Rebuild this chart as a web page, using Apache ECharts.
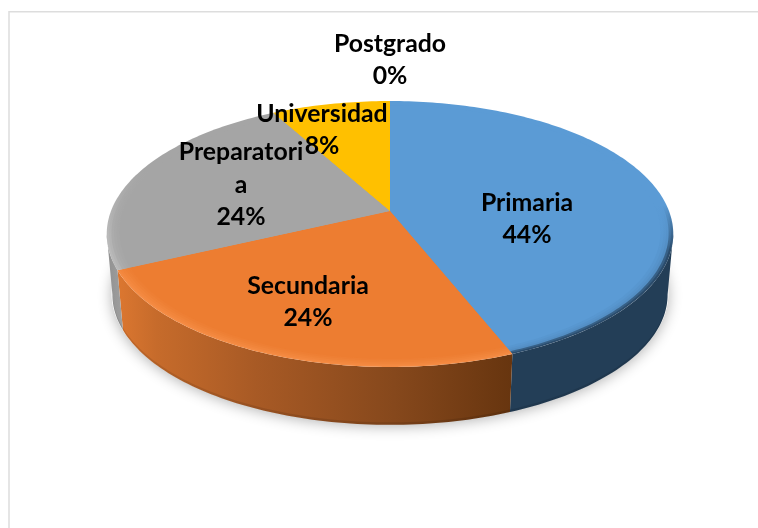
<!DOCTYPE html>
<html><head><meta charset="utf-8">
<style>html,body{margin:0;padding:0;background:#fff}#c{width:758px;height:528px}</style>
<script src="https://cdn.jsdelivr.net/npm/echarts@6/dist/echarts.min.js"></script>
</head><body><div id="c"></div>
<script>
const categories = ['Primaria','Secundaria','Preparatoria','Universidad','Postgrado'];
const values = [44,24,24,8,0];
const labelLines = [['Primaria','44%'],['Secundaria','24%'],['Preparatori','a','24%'],['Universidad','8%'],['Postgrado','0%']];
const labelAt = [[527,219],[308,302],[241,185],[322,130],[390,60]];
const topColors = ['#5B9BD5','#ED7D31','#A5A5A5','#FFC000','#4472C4'];
const rimColors = [['#2B4C6C','#4A80B2'],['#F58C44','#F58C44'],['#B9B9B9','#B2B2B2'],['#FFC000','#FFC000'],['#4472C4','#4472C4']];
const rimFade = [[205,250],[240,280],[170,235],[90,110],[90,110]];
const wallStops = [
  [[0,'#233E57'],[1,'#233E57']],
  [[0,'#DC7730'],[0.1,'#C66B2B'],[0.35,'#A85A25'],[0.7,'#86481C'],[1,'#67350F']],
  [[0,'#909090'],[1,'#A0A0A0']],
  [[0,'#A07A00'],[1,'#A07A00']],
  [[0,'#2A4780'],[1,'#2A4780']]
];
const cx=390, cy=211, A=129, B=279, k=0.173, wallDrop=61, wallScale=0.98;
const frontStart=Math.acos(-k), frontEnd=2*Math.PI-frontStart;

function proj(theta,r,drop,s){
  const u=r*Math.sin(theta), v=-r*Math.cos(theta), d=1-k*v;
  return [cx+s*B*u/d, cy+drop+s*A*v/d];
}
function arc(a0,a1,r,drop,s){
  const n=Math.max(2,Math.ceil((a1-a0)/0.02)), out=[];
  for(let i=0;i<=n;i++) out.push(proj(a0+(a1-a0)*i/n,r,drop,s));
  return out;
}
function wedge(a0,a1,r){ return [[cx,cy]].concat(arc(a0,a1,r,0,1)); }
const total=values.reduce((a,b)=>a+b,0);
function angles(i){
  let s=0; for(let j=0;j<i;j++) s+=values[j];
  return [s/total*2*Math.PI,(s+values[i])/total*2*Math.PI];
}
function hex(c){return [1,3,5].map(i=>parseInt(c.substr(i,2),16));}
function mix(a,b,t){const x=hex(a),y=hex(b);return 'rgb('+x.map((v,i)=>Math.round(v+(y[i]-v)*t)).join(',')+')';}

function renderSlice(params,api){
  const i=params.dataIndex, [a0,a1]=angles(i), ch=[];
  if(a1>a0){
    const f0=Math.max(a0,frontStart), f1=Math.min(a1,frontEnd);
    if(f1>f0){
      const tp=arc(f0,f1,1,0,1), bt=arc(f0,f1,1,wallDrop,wallScale);
      const xs=tp.concat(bt).map(p=>p[0]);
      ch.push({type:'polygon',z2:1,silent:true,shape:{points:tp.concat(bt.slice().reverse())},
        style:{fill:{type:'linear',x:Math.min(...xs),y:0,x2:Math.max(...xs),y2:0,global:true,
          colorStops:wallStops[i].map(s=>({offset:s[0],color:s[1]}))}}});
      ch.push({type:'polygon',z2:2,silent:true,
        shape:{points:arc(f0,f1,1,wallDrop-2.5,wallScale).concat(bt.slice().reverse())},
        style:{fill:'rgba(0,0,0,0.10)'}});
    }
    const rims=[[1,0],[0.992,0.25],[0.984,0.5],[0.975,0.7],[0.966,0.85],[0.956,1]];
    rims.forEach((ri,n)=>{
      const t=ri[1], base=topColors[i];
      const edge=mix(rimColors[i][t<0.4?0:1],base,t);
      ch.push({type:'polygon',z2:10+n,silent:true,shape:{points:wedge(a0,a1,ri[0])},style:{
        fill:t===1?base:{type:'linear',x:0,y:rimFade[i][0],x2:0,y2:rimFade[i][1],global:true,
          colorStops:[{offset:0,color:base},{offset:1,color:edge}]}}});
    });
  }
  return {type:'group',children:ch};
}
function renderText(params,api){
  const i=params.dataIndex,L=labelLines[i],lh=32.5;
  return {type:'group',children:L.map((t,n)=>({type:'text',z2:50,silent:true,style:{
    text:t,x:labelAt[i][0],y:labelAt[i][1]+(n-(L.length-1)/2)*lh,align:'center',verticalAlign:'middle',
    font:'bold 24.8px Lato, "Open Sans", sans-serif',fill:'#000'}}))};
}
function renderShadow(params,api){
  return {type:'polygon',silent:true,shape:{points:arc(0,2*Math.PI,1,wallDrop-1,wallScale+0.003)},
    style:{fill:'#fff',shadowBlur:14,shadowColor:'rgba(0,0,0,0.3)',shadowOffsetY:2}};
}
const chart=echarts.init(document.getElementById('c'),null,{renderer:'canvas'});
chart.setOption({
  animation:false,
  backgroundColor:'#fff',
  graphic:[
    {type:'polyline',z:0,silent:true,shape:{points:[[758,11.75],[9,11.75],[9,528]]},style:{stroke:'#DDDDDD',lineWidth:1.5,fill:null}}
  ],
  series:[
    {type:'custom',coordinateSystem:'none',z:1,data:[1],renderItem:renderShadow,silent:true},
    {type:'custom',coordinateSystem:'none',z:2,name:'Educación',renderItem:renderSlice,silent:true,
     data:categories.map((c,i)=>({name:c,value:values[i]}))},
    {type:'custom',coordinateSystem:'none',z:3,renderItem:renderText,silent:true,
     data:categories.map((c,i)=>({name:c,value:values[i]}))}
  ]
});
</script></body></html>
